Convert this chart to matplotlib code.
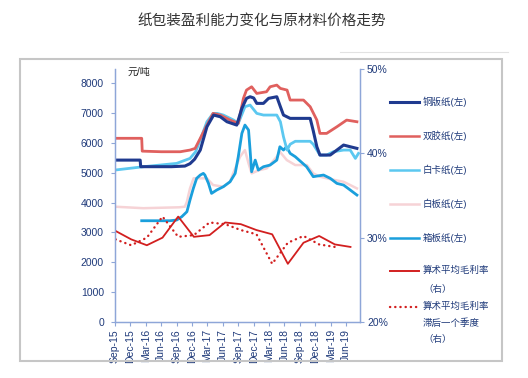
import numpy as np
import matplotlib
matplotlib.use("Agg")
import matplotlib.pyplot as plt
from matplotlib.lines import Line2D
from matplotlib.patches import Rectangle

plt.rcParams['font.family'] = ['Liberation Sans', 'Noto Sans CJK SC', 'DejaVu Sans']

# months counted from Sep-2015 (= 0)
tick_labels = ['Sep-15', 'Dec-15', 'Mar-16', 'Jun-16', 'Sep-16', 'Dec-16', 'Mar-17', 'Jun-17',
               'Sep-17', 'Dec-17', 'Mar-18', 'Jun-18', 'Sep-18', 'Dec-18', 'Mar-19', 'Jun-19']
tick_pos = [0, 3, 6, 9, 12, 15, 18, 21, 24, 27, 30, 33, 36, 39, 42, 45]

# 铜版纸 (coated paper)
tb_m = [0, 4.9, 5.0, 8, 11, 13.6, 14.6, 15.5, 16.6, 17.9, 19.2, 20.5, 21.8, 23.7, 24.7, 25.6, 26.3,
        27.0, 27.6, 28.9, 29.9, 31.5, 32.2, 32.8, 34.1, 38.0, 38.6, 39.3, 39.9, 41.9, 43.2, 44.5, 45.8, 47.1]
tb_v = [5420, 5420, 5200, 5200, 5200, 5220, 5300, 5450, 5756, 6536, 6928, 6871, 6704, 6593, 7152, 7487, 7541,
        7500, 7319, 7319, 7487, 7541, 7207, 6928, 6817, 6817, 6400, 5867, 5589, 5589, 5756, 5924, 5867, 5812]

# 双胶纸 (offset paper)
sj_m = [0, 5.2, 5.3, 9, 12.7, 14.6, 15.6, 16.6, 17.9, 19.1, 20.5, 22.4, 24.0, 25.0, 25.6, 26.6, 27.6,
        29.5, 30.2, 31.5, 32.2, 33.5, 34.1, 36.7, 38.0, 39.3, 39.9, 41.2, 43.2, 45.1, 47.1]
sj_v = [6150, 6150, 5720, 5700, 5700, 5756, 5812, 6148, 6593, 6984, 6928, 6760, 6649, 7486, 7764, 7875, 7652,
        7708, 7875, 7931, 7820, 7764, 7430, 7430, 7207, 6760, 6314, 6314, 6536, 6760, 6704]

# 白卡纸 (white cardboard)
bk_m = [0, 5.5, 12, 14.6, 15.7, 16.6, 17.9, 19.1, 19.9, 21.1, 23.1, 24.0, 25.3, 26.3, 27.6, 28.9,
        31.5, 32.2, 32.8, 33.5, 34.1, 35.1, 38.0, 38.6, 39.3, 39.9, 41.2, 42.5, 44.5, 45.8, 46.8, 47.4]
bk_v = [5087, 5198, 5310, 5477, 5700, 6100, 6704, 6984, 6984, 6928, 6760, 6649, 7207, 7263, 6984, 6928,
        6928, 6704, 6202, 5756, 5950, 6050, 6050, 5950, 5756, 5589, 5589, 5700, 5756, 5756, 5477, 5645]

# 白板纸 (white board)
bb_m = [0, 5.5, 12.5, 13.6, 14.0, 14.6, 15.3, 17.9, 19.1, 21.1, 22.4, 23.0, 24.35, 25.3, 26.0, 26.6,
        28.0, 29.55, 31.5, 32.1, 33.45, 35.1, 37.35, 38.6, 39.9, 42.0, 44.5, 45.8, 47.1]
bb_v = [3860, 3810, 3840, 3860, 4027, 4473, 4810, 4810, 4585, 4530, 4695, 4976, 5533, 5756, 5310, 4976,
        5080, 5144, 5533, 5700, 5420, 5254, 5254, 4976, 4865, 4780, 4695, 4585, 4473]

# 箱板纸 (container board)
xb_m = [5.2, 10.7, 12.0, 13.0, 14.0, 14.6, 15.25, 15.9, 16.6, 17.2, 17.5, 18.2, 18.8, 19.8, 21.1,
        22.4, 23.4, 24.0, 24.7, 25.3, 26.0, 26.3, 26.6, 27.3, 27.9, 28.9, 30.2, 31.5, 32.1, 32.8,
        33.4, 34.1, 35.1, 37.3, 38.6, 40.6, 41.9, 43.2, 44.5, 45.8, 47.1]
xb_v = [3390, 3390, 3413, 3525, 3692, 4083, 4473, 4810, 4920, 4976, 4920, 4640, 4306, 4418, 4530,
        4695, 4976, 5533, 6314, 6593, 6426, 5756, 5030, 5420, 5087, 5198, 5254, 5420, 5867, 5756,
        5867, 5645, 5533, 5198, 4865, 4920, 4810, 4640, 4585, 4418, 4250]

# 算术平均毛利率 (quarterly, %)
q_m = [0.1, 3.15, 6.2, 9.25, 12.3, 15.35, 18.4, 21.45, 24.5, 27.55, 30.6, 33.65, 36.7, 39.75, 42.8, 45.85]
margin = [30.8, 29.8, 29.1, 30.0, 32.5, 30.1, 30.3, 31.8, 31.6, 30.9, 30.4, 26.9, 29.4, 30.2, 29.2, 28.9]
# 滞后一个季度
lag_m = [0.1, 3.15, 6.2, 9.25, 12.3, 15.35, 18.4, 21.45, 24.5, 27.55, 30.6, 33.65, 36.7, 39.75, 42.8]
margin_lag = [29.8, 29.1, 30.0, 32.5, 30.1, 30.3, 31.8, 31.6, 30.9, 30.4, 26.9, 29.4, 30.2, 29.2, 28.9]

c_navy = '#1f3a8f'
c_red = '#e0605e'
c_lblue = '#5cc8f0'
c_pink = '#f6d3d6'
c_mblue = '#1a9fdc'
c_margin = '#d21f1f'
c_text = '#1f3a7a'
c_spine = '#8ea6d8'

W, H = 528, 378
fig = plt.figure(figsize=(W / 100, H / 100), dpi=100)

def fx(px):
    return px / W

def fy(py):
    return 1 - py / H

fig.text(fx(262), fy(21), '纸包装盈利能力变化与原材料价格走势', ha='center', va='center',
         fontsize=10.5, color='#333333', family=['Noto Sans CJK SC', 'DejaVu Sans'])
fig.add_artist(Rectangle((fx(20), fy(361)), fx(502) - fx(20), fy(59) - fy(361),
                         transform=fig.transFigure, fill=False, edgecolor='#c6c6c6', lw=1.5))
fig.add_artist(Line2D([fx(340), fx(508)], [fy(52), fy(52)], color='#e2e2e2', lw=0.8))

ax = fig.add_axes([fx(115), fy(322), fx(360) - fx(115), fy(69) - fy(322)])
ax2 = ax.twinx()

ax.plot(bb_m, bb_v, color=c_pink, lw=1.8)
ax.plot(xb_m, xb_v, color=c_mblue, lw=2.0)
ax.plot(bk_m, bk_v, color=c_lblue, lw=2.0)
ax.plot(sj_m, sj_v, color=c_red, lw=2.0)
ax.plot(tb_m, tb_v, color=c_navy, lw=2.2)

ax2.plot(q_m, margin, color=c_margin, lw=1.3)
ax2.plot(lag_m, margin_lag, color=c_margin, lw=1.7, linestyle=(0, (0.1, 2.1)), dash_capstyle='round')

ax.set_xlim(0, 47.7)
ax.set_ylim(0, 8470)
ax2.set_ylim(20, 50)
ax.set_yticks([0, 1000, 2000, 3000, 4000, 5000, 6000, 7000, 8000])
ax2.set_yticks([20, 30, 40, 50])
ax2.set_yticklabels(['20%', '30%', '40%', '50%'])
ax.set_xticks(tick_pos)
ax.set_xticklabels(tick_labels, rotation=90)

for a in (ax, ax2):
    a.spines['top'].set_visible(False)
    for s in ('left', 'right', 'bottom'):
        a.spines[s].set_color(c_spine)
        a.spines[s].set_linewidth(0.9)
    a.tick_params(colors=c_spine, labelcolor=c_text, labelsize=7.5, length=3, width=0.8)
ax.tick_params(axis='y', pad=5)
ax.tick_params(axis='x', pad=2)
ax2.tick_params(axis='y', pad=2)
ax.patch.set_alpha(0)

fig.text(fx(128), fy(72), '元/吨', ha='left', va='center', fontsize=7.2, color='#222222')

# legend
legend_items = [
    (101.7, c_navy, '-', 2.2, '铜版纸(左)'),
    (135.7, c_red, '-', 1.8, '双胶纸(左)'),
    (169.7, c_lblue, '-', 1.8, '白卡纸(左)'),
    (204.0, c_pink, '-', 1.8, '白板纸(左)'),
    (237.7, c_mblue, '-', 1.8, '箱板纸(左)'),
    (270.7, c_margin, '-', 1.4, '算术平均毛利率'),
    (306.7, c_margin, (0, (0.1, 2.1)), 1.7, '算术平均毛利率'),
]
for y, col, ls, lw, lab in legend_items:
    fig.add_artist(Line2D([fx(390), fx(419)], [fy(y), fy(y)], color=col, lw=lw,
                          linestyle=ls, dash_capstyle='round'))
    fig.text(fx(423), fy(y), lab, ha='left', va='center', fontsize=6.8, color=c_text)
fig.text(fx(423), fy(289), '（右）', ha='left', va='center', fontsize=6.8, color=c_text)
fig.text(fx(423), fy(323.5), '滞后一个季度', ha='left', va='center', fontsize=6.8, color=c_text)
fig.text(fx(423), fy(339), '（右）', ha='left', va='center', fontsize=6.8, color=c_text)

fig.savefig('out.png', dpi=100)
